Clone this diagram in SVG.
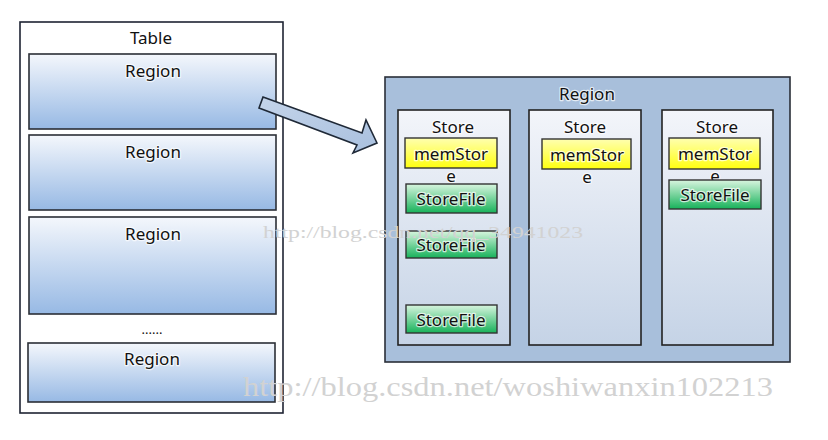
<svg xmlns="http://www.w3.org/2000/svg" width="828" height="440" viewBox="0 0 828 440">
<defs>
<linearGradient id="gRegion" x1="0" y1="0" x2="0" y2="1">
<stop offset="0" stop-color="#f4f7fc"/><stop offset="1" stop-color="#97b9e4"/>
</linearGradient>
<linearGradient id="gStore" x1="0" y1="0" x2="0" y2="1">
<stop offset="0" stop-color="#f3f5fa"/><stop offset="1" stop-color="#c5d3e6"/>
</linearGradient>
<linearGradient id="gMem" x1="0" y1="0" x2="0" y2="1">
<stop offset="0" stop-color="#ffffb0"/><stop offset="1" stop-color="#ffff10"/>
</linearGradient>
<linearGradient id="gFile" x1="0" y1="0" x2="0" y2="1">
<stop offset="0" stop-color="#d8f5df"/><stop offset="1" stop-color="#17b25a"/>
</linearGradient>
<linearGradient id="gArrow" x1="0" y1="0" x2="1" y2="1">
<stop offset="0" stop-color="#c4d4ea"/><stop offset="1" stop-color="#a9c0de"/>
</linearGradient>
<style>
text{font-family:"Noto Sans","Open Sans","DejaVu Sans",sans-serif;fill:#111;text-anchor:middle;stroke:#fff;stroke-width:2.5px;stroke-opacity:0.7;paint-order:stroke;stroke-linejoin:round}
.t{font-size:17px}
.s{font-size:17px}
.reg{fill:url(#gRegion);stroke:#2b2f36;stroke-width:1.6}
.store{fill:url(#gStore);stroke:#222;stroke-width:1.6}
.mem{fill:url(#gMem);stroke:#333;stroke-width:1.4}
.file{fill:url(#gFile);stroke:#333;stroke-width:1.4}
.wm{font-family:"Liberation Serif","DejaVu Serif",serif;fill:#d2d2d2;text-anchor:start;stroke:none}
</style>
</defs>

<g id="table">
<rect x="20" y="22" width="263" height="391" fill="#fff" stroke="#1e2433" stroke-width="1.6"/>
<text class="t" x="151" y="44">Table</text>
</g>
<g id="table-region-1"><rect class="reg" x="29" y="54" width="247" height="75"/><text class="t" x="153" y="77">Region</text></g>
<g id="table-region-2"><rect class="reg" x="29" y="135" width="247" height="75"/><text class="t" x="153" y="158">Region</text></g>
<g id="table-region-3"><rect class="reg" x="29" y="217" width="247" height="97"/><text class="t" x="153" y="240">Region</text></g>
<g id="ellipsis"><text class="t" x="152" y="334" style="font-size:13px">......</text></g>
<g id="table-region-4"><rect class="reg" x="28" y="343" width="247" height="59"/><text class="t" x="152" y="365">Region</text></g>

<g id="region-detail">
<rect x="385" y="77" width="405" height="285" fill="#a8bfdb" stroke="#2a2f38" stroke-width="1.6"/>
<text class="t" x="587" y="100">Region</text>
</g>

<g id="store-1">
<rect class="store" x="398" y="110" width="112" height="235"/>
<text class="t" x="453" y="133">Store</text>
</g>
<g id="store-1-mem"><rect class="mem" x="405" y="138" width="92" height="30"/><text class="s" x="451" y="160">memStor</text><text class="s" x="451" y="182">e</text></g>
<g id="store-1-file-1"><rect class="file" x="406" y="184" width="91" height="29"/><text class="s" x="451" y="205">StoreFile</text></g>
<g id="store-1-file-2"><rect class="file" x="406" y="231" width="91" height="27"/><text class="s" x="451" y="251">StoreFile</text></g>
<g id="store-1-file-3"><rect class="file" x="406" y="305" width="91" height="28"/><text class="s" x="451" y="326">StoreFile</text></g>

<g id="store-2">
<rect class="store" x="529" y="110" width="112" height="235"/>
<text class="t" x="585" y="133">Store</text>
</g>
<g id="store-2-mem"><rect class="mem" x="542" y="139" width="89" height="30"/><text class="s" x="587" y="161">memStor</text><text class="s" x="587" y="183">e</text></g>

<g id="store-3">
<rect class="store" x="662" y="110" width="111" height="235"/>
<text class="t" x="717" y="133">Store</text>
</g>
<g id="store-3-mem"><rect class="mem" x="669" y="138" width="91" height="31"/><text class="s" x="715" y="160">memStor</text><text class="s" x="715" y="182">e</text></g>
<g id="store-3-file-1"><rect class="file" x="669" y="180" width="92" height="29"/><text class="s" x="715" y="201">StoreFile</text></g>

<g id="connectors">
<path d="M263,97 L362,133 L366,120 L377,143 L353,153 L357,145 L259,108 Z" fill="url(#gArrow)" stroke="#1f2937" stroke-width="1.6" stroke-linejoin="miter"/>
</g>

<g id="watermarks">
<text class="wm" x="263" y="238" font-size="17" textLength="320" lengthAdjust="spacingAndGlyphs">http://blog.csdn.net/qq_34941023</text>
<text class="wm" x="243" y="396" font-size="28" textLength="530" lengthAdjust="spacingAndGlyphs">http://blog.csdn.net/woshiwanxin102213</text>
</g>
</svg>
